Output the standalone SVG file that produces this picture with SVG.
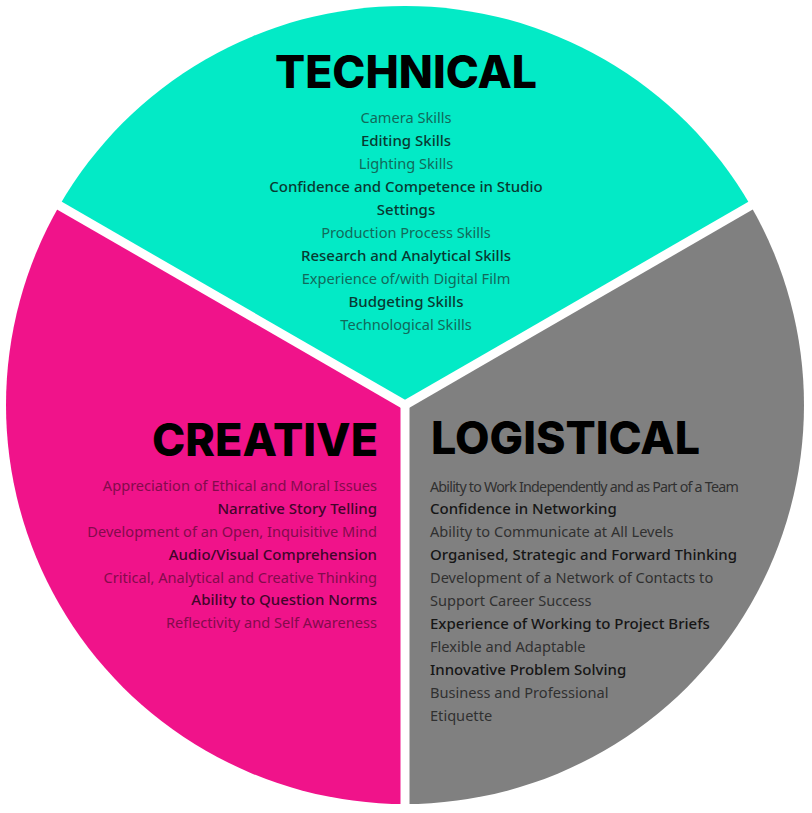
<svg xmlns="http://www.w3.org/2000/svg" width="812" height="813" viewBox="0 0 812 813">
<style>
.h{font-family:Inter,"Liberation Sans",sans-serif;font-weight:800;font-size:45px;fill:#000}
.t{font-family:"Noto Sans","Liberation Sans",sans-serif;font-size:15px}
.l{font-weight:400;font-size:14.6px}
.m{font-weight:500}
.tc .l{fill:#116a5b}.tc .m{fill:#083a32}
.cr .l{fill:#830b4c}.cr .m{fill:#42052a}
.lg .l{fill:#303030}.lg .m{fill:#161616}
.sep{stroke:#fff;stroke-width:9;stroke-linecap:butt}
</style>
<rect width="812" height="813" fill="#fff"/>
<g id="technical" class="tc">
<path d="M405,405 L59.46,205.5 A399,399 0 0 1 750.54,205.5 Z" fill="#03eac6"/>
<text class="h" x="406" y="88" text-anchor="middle" textLength="262" lengthAdjust="spacingAndGlyphs">TECHNICAL</text>
<g class="t" text-anchor="middle">
<text class="l" x="406" y="123">Camera Skills</text>
<text class="m" x="406" y="146">Editing Skills</text>
<text class="l" x="406" y="169">Lighting Skills</text>
<text class="m" x="406" y="192">Confidence and Competence in Studio</text>
<text class="m" x="406" y="215">Settings</text>
<text class="l" x="406" y="238">Production Process Skills</text>
<text class="m" x="406" y="261">Research and Analytical Skills</text>
<text class="l" x="406" y="284">Experience of/with Digital Film</text>
<text class="m" x="406" y="307">Budgeting Skills</text>
<text class="l" x="406" y="330">Technological Skills</text>
</g>
</g>
<g id="creative" class="cr">
<path d="M405,405 L405,804 A399,399 0 0 1 59.46,205.5 Z" fill="#f0138a"/>
<text class="h" x="378" y="456" text-anchor="end" textLength="226" lengthAdjust="spacingAndGlyphs">CREATIVE</text>
<g class="t" text-anchor="end">
<text class="l" x="377" y="491">Appreciation of Ethical and Moral Issues</text>
<text class="m" x="377" y="514">Narrative Story Telling</text>
<text class="l" x="377" y="537">Development of an Open, Inquisitive Mind</text>
<text class="m" x="377" y="560">Audio/Visual Comprehension</text>
<text class="l" x="377" y="583">Critical, Analytical and Creative Thinking</text>
<text class="m" x="377" y="605">Ability to Question Norms</text>
<text class="l" x="377" y="628">Reflectivity and Self Awareness</text>
</g>
</g>
<g id="logistical" class="lg">
<path d="M405,405 L750.54,205.5 A399,399 0 0 1 405,804 Z" fill="#808080"/>
<text class="h" x="431" y="454" textLength="269" lengthAdjust="spacingAndGlyphs">LOGISTICAL</text>
<g class="t">
<text class="l" x="430" y="492" textLength="308" lengthAdjust="spacingAndGlyphs" letter-spacing="-0.8">Ability to Work Independently and as Part of a Team</text>
<text class="m" x="430" y="514">Confidence in Networking</text>
<text class="l" x="430" y="537">Ability to Communicate at All Levels</text>
<text class="m" x="430" y="560">Organised, Strategic and Forward Thinking</text>
<text class="l" x="430" y="583">Development of a Network of Contacts to</text>
<text class="l" x="430" y="606">Support Career Success</text>
<text class="m" x="430" y="629">Experience of Working to Project Briefs</text>
<text class="l" x="430" y="652">Flexible and Adaptable</text>
<text class="m" x="430" y="675">Innovative Problem Solving</text>
<text class="l" x="430" y="698">Business and Professional</text>
<text class="l" x="430" y="721">Etiquette</text>
</g>
</g>
<g id="connectors">
<line class="sep" x1="405" y1="405" x2="41" y2="195"/>
<line class="sep" x1="405" y1="405" x2="769" y2="195"/>
<line class="sep" x1="405" y1="405" x2="405" y2="813"/>
</g>
</svg>
